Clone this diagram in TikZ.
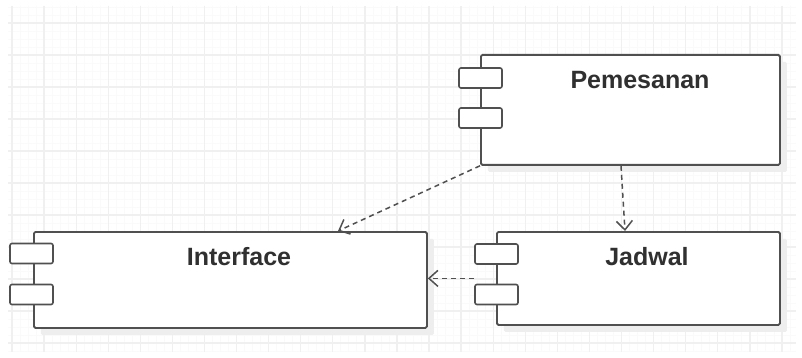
\documentclass[tikz,border=0pt]{standalone}
\usepackage{fontspec}
\setmainfont{Liberation Sans}
\usetikzlibrary{arrows.meta,shadows}
\definecolor{linec}{HTML}{505050}
\definecolor{textc}{HTML}{303030}
\definecolor{gridmaj}{HTML}{F0F0F0}
\definecolor{gridmin}{HTML}{FAFAFA}
\definecolor{shadowc}{HTML}{EEEEEE}
\tikzset{
  compbox/.style={draw=linec, line width=1.8pt, fill=white, rounded corners=1.5pt,
    inner sep=0pt, anchor=north west,
    drop shadow={shadow xshift=7pt, shadow yshift=-7pt, fill=shadowc, opacity=1}},
  portbox/.style={draw=linec, line width=1.6pt, fill=white, rounded corners=2pt,
    inner sep=0pt, minimum width=43pt, minimum height=20pt},
  lbl/.style={text=textc, font=\fontsize{25}{30}\selectfont\bfseries, inner sep=0pt},
  dep/.style={draw=linec, line width=1.5pt, dash pattern=on 5pt off 4pt,
    -{Straight Barb[length=9pt,width=16pt,line width=1.5pt]}},
}
\begin{document}
\begin{tikzpicture}[x=1pt,y=-1pt]
\useasboundingbox (0,0) rectangle (802,358);
\fill[white] (0,0) rectangle (802,358);
% grid
\foreach \i in {0,...,97} {\draw[gridmin, line width=0.8pt] ({12+8.02*\i},6) -- ({12+8.02*\i},352);}
\foreach \i in {0,...,43} {\draw[gridmin, line width=0.8pt] (8,{7+8*\i}) -- (796,{7+8*\i});}
\foreach \i in {0,...,24} {\draw[gridmaj, line width=1.3pt] ({12+32.08*\i},6) -- ({12+32.08*\i},352);}
\foreach \i in {0,...,10} {\draw[gridmaj, line width=1.3pt] (8,{23+32*\i}) -- (796,{23+32*\i});}
% components
\node[compbox, minimum width=299pt, minimum height=110pt] (pem) at (480,54) {};
\node[portbox] (pp1) at (480.5,78) {};
\node[portbox] (pp2) at (480.5,118) {};
\node[lbl] (pemT) at (640,80) {Pemesanan};

\node[compbox, minimum width=393pt, minimum height=96pt] (intf) at (33,231) {};
\node[portbox] (ip1) at (31.5,253.5) {};
\node[portbox] (ip2) at (31.5,294.5) {};
\node[lbl] (intfT) at (239,257) {Interface};

\node[compbox, minimum width=283pt, minimum height=93pt] (jad) at (496,231) {};
\node[portbox] (jp1) at (496.5,254) {};
\node[portbox] (jp2) at (496.5,294.5) {};
\node[lbl] (jadT) at (647,257) {Jadwal};
% dependencies
\draw[dep] (pem.south west) -- ([xshift=305pt]intf.north west);
\draw[dep] ([xshift=141pt]pem.south west) -- ([xshift=129pt]jad.north west);
\draw[dep] (jp1.west |- jad.west) -- (intf.east |- jad.west);
\end{tikzpicture}
\end{document}
